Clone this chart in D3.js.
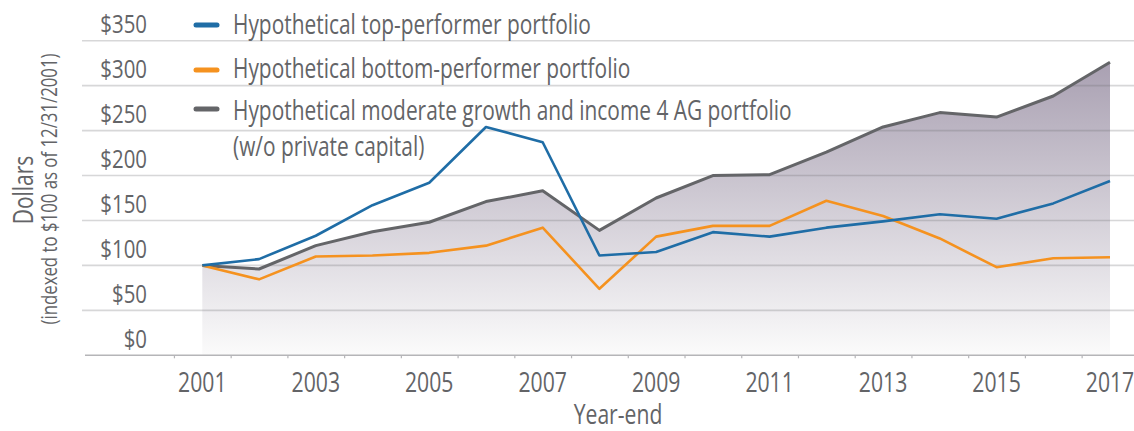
<!DOCTYPE html>
<html>
<head>
<meta charset="utf-8">
<script src="https://cdn.jsdelivr.net/npm/d3@7"></script>
<style>
  html, body { margin: 0; padding: 0; background: #ffffff; }
  svg { display: block; }
  text { font-family: "Open Sans", "Liberation Sans", sans-serif; fill: #636467; }
</style>
</head>
<body>
<svg id="chart" width="1134" height="431"></svg>
<script>
// ---------- data ----------
const years = [2001, 2002, 2003, 2004, 2005, 2006, 2007, 2008, 2009, 2010, 2011, 2012, 2013, 2014, 2015, 2016, 2017];
const topPerformer =    [100, 107, 133, 167, 192, 254, 237, 111, 115, 137, 132, 142, 149, 157, 152, 169, 194];
const bottomPerformer = [100, 84.5, 110, 111, 114, 122, 142, 74, 132, 144, 144, 172, 155, 130, 98, 108, 109];
const moderateGrowth =  [100, 96, 122, 137.5, 148, 171, 183, 139, 175, 200, 201, 226, 254, 270, 265, 288.5, 326];
const yTicks = [0, 50, 100, 150, 200, 250, 300, 350];
const xLabelYears = [2001, 2003, 2005, 2007, 2009, 2011, 2013, 2015, 2017];
const legendLabels = [
  ["Hypothetical top-performer portfolio"],
  ["Hypothetical bottom-performer portfolio"],
  ["Hypothetical moderate growth and income 4 AG portfolio", "(w/o private capital)"]
];
const yTitle = ["Dollars", "(indexed to $100 as of 12/31/2001)"];
const xTitle = "Year-end";

// ---------- styles ----------
const colors = { top: "#1f6da6", bottom: "#f5921f", moderate: "#646568" };

const svg = d3.select("#chart");

function addText(parent, x, y, str, size, anchor, sx, extra) {
  return parent.append("text")
    .attr("transform", `translate(${x},${y})${extra || ""} scale(${sx},1)`)
    .attr("text-anchor", anchor)
    .attr("font-size", size)
    .text(str);
}

// scales
const x = d3.scaleLinear().domain([2001, 2017]).range([202.3, 1110]);
const y = d3.scaleLinear().domain([0, 350]).range([355.3, 40.7]);

// gradient for area
const defs = svg.append("defs");
const grad = defs.append("linearGradient")
  .attr("id", "areaGrad")
  .attr("gradientUnits", "userSpaceOnUse")
  .attr("x1", 0).attr("x2", 0)
  .attr("y1", y(330)).attr("y2", y(0));
grad.append("stop").attr("offset", "0%").attr("stop-color", "#a89fb1");
grad.append("stop").attr("offset", "100%").attr("stop-color", "#fbfbfb");

// area under moderate portfolio
const area = d3.area()
  .x((d, i) => x(years[i]))
  .y0(y(0))
  .y1(d => y(d));
svg.append("path")
  .datum(moderateGrowth)
  .attr("d", area)
  .attr("fill", "url(#areaGrad)");

// gridlines (drawn over the area, translucent)
svg.append("g")
  .selectAll("line")
  .data(yTicks.filter(v => v > 0))
  .join("line")
  .attr("x1", 82).attr("x2", 1134)
  .attr("y1", d => y(d)).attr("y2", d => y(d))
  .attr("stroke", "rgba(110,110,115,0.28)")
  .attr("stroke-width", 1.6);

// y labels
const gy = svg.append("g");
yTicks.forEach(v => addText(gy, 147, y(v) - 7.5, "$" + v, 25.5, "end", 0.8));

// x axis: baseline + ticks between years
const xAxis = d3.axisBottom(x)
  .tickValues(d3.range(2000.5, 2017, 1))
  .tickSize(3)
  .tickFormat("");
const gx = svg.append("g")
  .attr("transform", `translate(0,${y(0)})`)
  .call(xAxis);
gx.select(".domain").remove();
gx.selectAll(".tick line").attr("stroke", "#b5b5b8").attr("stroke-width", 1.2);
svg.append("line")
  .attr("x1", 85).attr("x2", 1134)
  .attr("y1", y(0)).attr("y2", y(0))
  .attr("stroke", "#b5b5b8").attr("stroke-width", 1.6);

// x labels
const gxl = svg.append("g");
xLabelYears.forEach(yr => addText(gxl, x(yr), 392, String(yr), 26.5, "middle", 0.8));

// x title
addText(svg, 618, 424, xTitle, 28, "middle", 0.755);

// y title
addText(svg, 33, 190, yTitle[0], 28, "middle", 0.75, " rotate(-90)");
addText(svg, 57, 189, yTitle[1], 21, "middle", 0.8, " rotate(-90)");

// lines
const line = d3.line().x((d, i) => x(years[i])).y(d => y(d));
const series = [
  { vals: moderateGrowth, color: colors.moderate, w: 3 },
  { vals: bottomPerformer, color: colors.bottom, w: 2.6 },
  { vals: topPerformer, color: colors.top, w: 2.6 }
];
series.forEach(s => {
  svg.append("path")
    .datum(s.vals)
    .attr("d", line)
    .attr("fill", "none")
    .attr("stroke", s.color)
    .attr("stroke-width", s.w)
    .attr("stroke-linejoin", "round");
});

// legend
const legendColors = [colors.top, colors.bottom, colors.moderate];
const legendMarkY = [25, 70, 109];
const legendBase = [33.5, 77.5, 120];
const leg = svg.append("g");
legendLabels.forEach((lines, i) => {
  leg.append("line")
    .attr("x1", 196).attr("x2", 217)
    .attr("y1", legendMarkY[i]).attr("y2", legendMarkY[i])
    .attr("stroke", legendColors[i])
    .attr("stroke-width", 5)
    .attr("stroke-linecap", "round");
  lines.forEach((t, j) => addText(leg, 233, legendBase[i] + j * 36, t, 27.5, "start", 0.76));
});
</script>
</body>
</html>
